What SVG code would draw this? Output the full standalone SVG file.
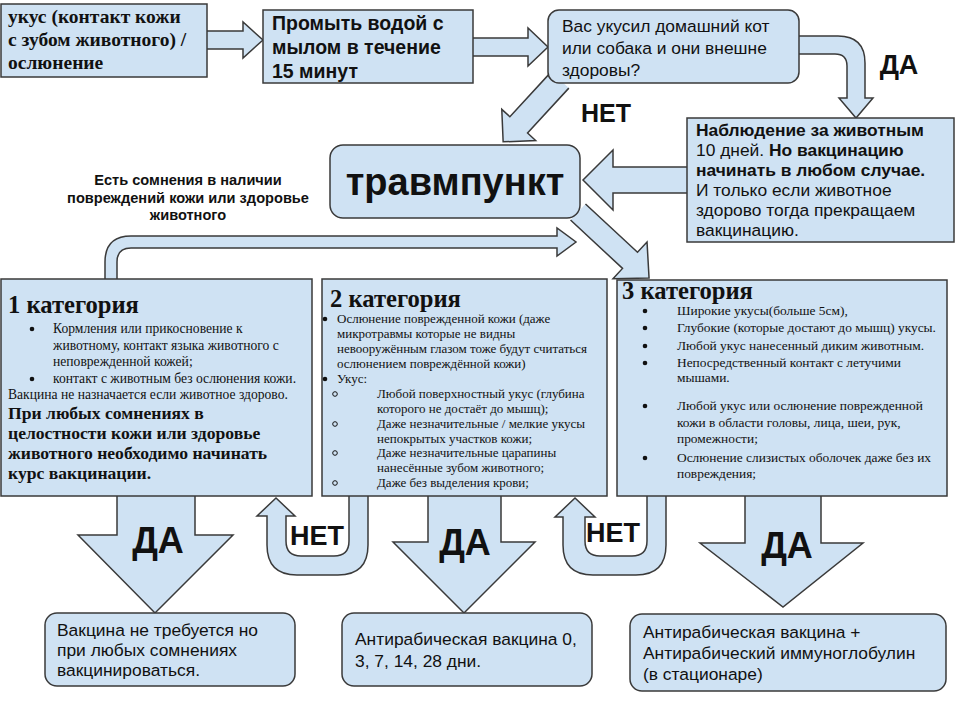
<svg xmlns="http://www.w3.org/2000/svg" width="960" height="720" viewBox="0 0 960 720">
<style>
.box{fill:#cfe2f3;stroke:#3a3a3a;stroke-width:1.5}
.arr{fill:#cfe2f3;stroke:#3a3a3a;stroke-width:1.5;stroke-linejoin:miter}
.sans{font-family:"Liberation Sans",Arial,sans-serif;fill:#111}
.serif{font-family:"Liberation Serif","Times New Roman",serif;fill:#111}
.b{font-weight:bold}
.t17{font-size:17.4px}
.t19{font-size:19.5px}
.ttl{font-size:24.6px;font-weight:bold}
.lbl{font-family:"Liberation Sans",Arial,sans-serif;font-weight:bold;fill:#111}
.dot{fill:#111}
.ring{fill:none;stroke:#111;stroke-width:1}
</style>
<rect width="960" height="720" fill="#ffffff"/>

<g id="connectors">
  <!-- box1 -> box2 -->
  <path class="arr" d="M207,31 H243 V22 L263,40 L243,58 V49 H207"/>
  <!-- box2 -> box3 -->
  <path class="arr" d="M473,38 H528 V28 L548,47 L528,66 V56 H473"/>
  <!-- box3 -> observation (ДА) -->
  <path class="arr" d="M799,36 H838 Q865,36 865,63 V98 H873 L856,118 L839,98 H847 V66 Q847,54 835,54 H799"/>
  <!-- box3 -> травмпункт (НЕТ) -->
  <path class="arr" transform="translate(560,80) rotate(132.6)" d="M0,-12 H61 V-23 L84,0 L61,23 V12 H0"/>
  <!-- observation -> травмпункт -->
  <path class="arr" d="M687,167 H613 V150 L583,180 L613,210 V193 H687"/>
  <!-- травмпункт -> category 3 -->
  <path class="arr" transform="translate(578,212) rotate(42.9)" d="M0,-11 H71 V-25 L97,0 L71,25 V11 H0"/>
  <!-- category 1 -> right (doubts) -->
  <path class="arr" d="M105,280 V262 Q105,236 131,236 H557 V228 L576,242 L557,256 V248 H131 Q117,248 117,262 V280"/>
  <!-- ДА arrows -->
  <path class="arr" d="M117,496 V535 H78 L155,613 L233,535 H195 V496"/>
  <path class="arr" d="M428,496 V542 H393 L464,613 L535,542 H501 V496"/>
  <path class="arr" d="M745,496 V543 H700 L783,607 L863,543 H821 V496"/>
  <!-- НЕТ U-turn arrows -->
  <path class="arr" d="M368,496 V545 Q368,575 338,575 H297 Q267,575 267,545 V516 H257 L276,498 L295,516 H286 V541 Q286,556 301,556 H334 Q349,556 349,541 V496"/>
  <path class="arr" d="M666,496 V545 Q666,575 636,575 H593 Q563,575 563,545 V517 H555 L575,498 L595,517 H585 V541 Q585,556 600,556 H632 Q647,556 647,541 V496"/>
  <!-- labels -->
  <text class="lbl" x="899" y="74" font-size="27" text-anchor="middle">ДА</text>
  <text class="lbl" x="606" y="122" font-size="25" text-anchor="middle">НЕТ</text>
  <text class="lbl" x="158" y="553" font-size="36" text-anchor="middle">ДА</text>
  <text class="lbl" x="465" y="555" font-size="36" text-anchor="middle">ДА</text>
  <text class="lbl" x="787" y="558" font-size="36" text-anchor="middle">ДА</text>
  <text class="lbl" x="317" y="545" font-size="27" text-anchor="middle">НЕТ</text>
  <text class="lbl" x="613" y="542" font-size="27" text-anchor="middle">НЕТ</text>
  <g class="lbl" font-size="14.6" text-anchor="middle">
    <text x="188" y="185">Есть сомнения в наличии</text>
    <text x="188" y="203">повреждений кожи или здоровье</text>
    <text x="188" y="220">животного</text>
  </g>
</g>

<g id="bite">
  <rect class="box" x="1" y="4" width="206" height="73"/>
  <g class="serif b t19">
    <text x="8" y="23">укус (контакт кожи</text>
    <text x="8" y="46">с зубом животного) /</text>
    <text x="8" y="69">ослюнение</text>
  </g>
</g>

<g id="wash">
  <rect class="box" x="263" y="10" width="210" height="73"/>
  <g class="sans b t19">
    <text x="272" y="30">Промыть водой с</text>
    <text x="272" y="54">мылом в течение</text>
    <text x="272" y="78">15 минут</text>
  </g>
</g>

<g id="question">
  <rect class="box" x="548" y="10" width="251" height="73" rx="11"/>
  <g class="sans t17">
    <text x="562" y="32">Вас укусил домашний кот</text>
    <text x="562" y="54">или собака и они внешне</text>
    <text x="562" y="76">здоровы?</text>
  </g>
</g>

<g id="observation">
  <rect class="box" x="687" y="118" width="267" height="124"/>
  <g class="sans t17">
    <text x="696" y="136" class="b">Наблюдение за животным</text>
    <text x="696" y="156">10 дней. <tspan class="b">Но вакцинацию</tspan></text>
    <text x="696" y="176" class="b">начинать в любом случае.</text>
    <text x="696" y="196">И только если животное</text>
    <text x="696" y="216">здорово тогда прекращаем</text>
    <text x="696" y="236">вакцинацию.</text>
  </g>
</g>

<g id="trauma">
  <rect class="box" x="330" y="145" width="250" height="73" rx="13"/>
  <text class="sans b" x="455" y="195" font-size="38" text-anchor="middle">травмпункт</text>
</g>

<g id="cat1">
  <rect class="box" x="1" y="279" width="311" height="217"/>
  <text class="serif ttl" x="8" y="313">1 категория</text>
  <circle class="dot" cx="32" cy="329" r="2.3"/>
  <circle class="dot" cx="32" cy="379" r="2.3"/>
  <g class="serif" font-size="13.6">
    <text x="53" y="333">Кормления или прикосновение к</text>
    <text x="53" y="350">животному, контакт языка животного с</text>
    <text x="53" y="366">неповрежденной кожей;</text>
    <text x="53" y="383">контакт с животным без ослюнения кожи.</text>
    <text x="8" y="399">Вакцина не назначается если животное здорово.</text>
  </g>
  <g class="serif b" font-size="17.6">
    <text x="8" y="419">При любых сомнениях в</text>
    <text x="8" y="439">целостности кожи или здоровье</text>
    <text x="8" y="459">животного необходимо начинать</text>
    <text x="8" y="479">курс вакцинации.</text>
  </g>
</g>

<g id="cat2">
  <rect class="box" x="322" y="279" width="285" height="217"/>
  <text class="serif ttl" x="330" y="307">2 категория</text>
  <circle class="dot" cx="325" cy="319" r="2.3"/>
  <circle class="dot" cx="325" cy="379" r="2.3"/>
  <circle class="ring" cx="335" cy="394" r="2.3"/>
  <circle class="ring" cx="335" cy="424" r="2.3"/>
  <circle class="ring" cx="335" cy="453" r="2.3"/>
  <circle class="ring" cx="335" cy="483" r="2.3"/>
  <g class="serif" font-size="13">
    <text x="337" y="323">Ослюнение поврежденной кожи (даже</text>
    <text x="337" y="338">микротравмы которые не видны</text>
    <text x="337" y="353">невооружённым глазом тоже будут считаться</text>
    <text x="337" y="368">ослюнением повреждённой кожи)</text>
    <text x="337" y="383">Укус:</text>
    <text x="377" y="398">Любой поверхностный укус (глубина</text>
    <text x="377" y="413">которого не достаёт до мышц);</text>
    <text x="377" y="428">Даже незначительные / мелкие укусы</text>
    <text x="377" y="443">непокрытых участков кожи;</text>
    <text x="377" y="457">Даже незначительные царапины</text>
    <text x="377" y="472">нанесённые зубом животного;</text>
    <text x="377" y="487">Даже без выделения крови;</text>
  </g>
</g>

<g id="cat3">
  <rect class="box" x="617" y="280" width="330" height="216"/>
  <text class="serif ttl" x="622" y="299">3 категория</text>
  <circle class="dot" cx="645" cy="311" r="2.3"/>
  <circle class="dot" cx="645" cy="328" r="2.3"/>
  <circle class="dot" cx="645" cy="346" r="2.3"/>
  <circle class="dot" cx="645" cy="363" r="2.3"/>
  <circle class="dot" cx="645" cy="406" r="2.3"/>
  <circle class="dot" cx="645" cy="458" r="2.3"/>
  <g class="serif" font-size="13.4">
    <text x="677" y="315">Широкие укусы(больше 5см),</text>
    <text x="677" y="332">Глубокие (которые достают до мышц) укусы.</text>
    <text x="677" y="350">Любой укус нанесенный диким животным.</text>
    <text x="677" y="367">Непосредственный контакт с летучими</text>
    <text x="677" y="382">мышами.</text>
    <text x="677" y="410">Любой укус или ослюнение поврежденной</text>
    <text x="677" y="427">кожи в области головы, лица, шеи, рук,</text>
    <text x="677" y="443">промежности;</text>
    <text x="677" y="462">Ослюнение слизистых оболочек даже без их</text>
    <text x="677" y="478">повреждения;</text>
  </g>
</g>

<g id="result1">
  <rect class="box" x="45" y="613" width="250" height="73" rx="12"/>
  <g class="sans t17">
    <text x="57" y="636">Вакцина не требуется но</text>
    <text x="57" y="656">при любых сомнениях</text>
    <text x="57" y="676">вакцинироваться.</text>
  </g>
</g>

<g id="result2">
  <rect class="box" x="342" y="613" width="250" height="73" rx="12"/>
  <g class="sans t17">
    <text x="355" y="645">Антирабическая вакцина 0,</text>
    <text x="355" y="667">3, 7, 14, 28 дни.</text>
  </g>
</g>

<g id="result3">
  <rect class="box" x="630" y="614" width="316" height="77" rx="12"/>
  <g class="sans t17">
    <text x="643" y="638">Антирабическая вакцина +</text>
    <text x="643" y="659">Антирабический иммуноглобулин</text>
    <text x="643" y="680">(в стационаре)</text>
  </g>
</g>
</svg>
